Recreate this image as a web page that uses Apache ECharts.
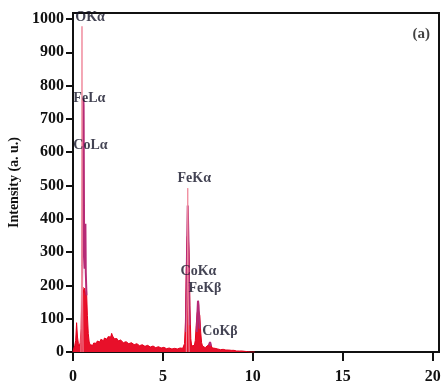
<!DOCTYPE html>
<html>
<head>
<meta charset="utf-8">
<script src="https://cdn.jsdelivr.net/npm/echarts@6/dist/echarts.min.js"></script>
<style>
  html, body { margin: 0; padding: 0; background: #fff; }
  #chart { width: 445px; height: 383px; }
</style>
</head>
<body>
<div id="chart"></div>
<script>
// EDS spectrum: energy (keV) vs. intensity (a. u.)

// Main spectrum (filled), sampled every 0.05 keV from 0 to 10.6 keV
const mainStart = 0;
const mainStep = 0.05;
const mainCounts = [
  0, 12, 20, 35, 88, 45, 25, 18, 28, 70,
  185, 195, 178, 192, 170, 188, 110, 55, 30, 22,
  18, 24, 20, 27, 22, 30, 26, 33, 28, 35,
  30, 38, 32, 40, 34, 42, 36, 44, 38, 46,
  40, 52, 45, 56, 48, 50, 40, 44, 36, 40,
  33, 38, 31, 36, 30, 34, 28, 33, 27, 31,
  26, 30, 25, 29, 24, 28, 23, 27, 22, 26,
  21, 25, 20, 24, 19, 23, 18, 22, 18, 21,
  17, 21, 16, 20, 16, 19, 15, 19, 15, 18,
  14, 17, 13, 16, 13, 16, 12, 15, 12, 14,
  11, 14, 11, 13, 10, 13, 10, 12, 10, 12,
  9, 12, 9, 11, 9, 11, 9, 11, 10, 12,
  10, 12, 11, 14, 25, 90, 250, 345, 360, 300,
  140, 40, 18, 14, 16, 20, 35, 80, 115, 130,
  128, 110, 60, 28, 18, 16, 14, 13, 15, 18,
  20, 24, 26, 22, 16, 12, 11, 10, 11, 9,
  10, 9, 8, 9, 7, 8, 7, 8, 6, 7,
  6, 7, 5, 6, 5, 6, 5, 5, 4, 5,
  4, 4, 3, 4, 3, 3, 3, 2, 3, 2,
  2, 2, 1, 1, 1, 1, 1, 0, 0, 0,
  0, 0, 0
];

// Narrow overlay lines (pink): O Kα and Fe Kα tops
const pinkEnergy = [0.44, 0.48, 0.50, 0.52, 0.56, null, 6.30, 6.36, 6.38, 6.40, 6.46];
const pinkCounts = [0, 260, 978, 240, 0, null, 0, 210, 492, 200, 0];

// Overlay lines (magenta): Fe Lα, Co Lα region, Fe Kα, Co Kα / Fe Kβ, Co Kβ
const magentaEnergy = [0.50, 0.54, 0.57, 0.59, 0.62, 0.65, 0.67, 0.69, 0.71, 0.75, null,
  6.28, 6.34, 6.38, 6.42, 6.48, null, 6.88, 6.92, 6.95, 6.98, 7.04, null,
  7.55, 7.62, 7.68];
const magentaCounts = [190, 420, 762, 740, 300, 250, 330, 385, 240, 170, null,
  60, 300, 440, 330, 80, null, 60, 120, 154, 140, 70, null,
  20, 30, 18];

// Peak annotations
const peakNames = ['OKα', 'FeLα', 'CoLα', 'FeKα', 'CoKα', 'FeKβ', 'CoKβ'];
const peakLabelX = [0.13, 0.02, 0.02, 5.81, 5.98, 6.42, 7.19];
const peakLabelY = [1004, 763, 619, 522, 243, 192, 61];

const panelTag = '(a)';
const panelTagPos = [19.85, 955];

// Axis ticks
const xTicks = [0, 5, 10, 15, 20];
const yTicks = [0, 100, 200, 300, 400, 500, 600, 700, 800, 900, 1000];

const mainData = mainCounts.map((c, i) => [+(mainStart + i * mainStep).toFixed(2), c]);
const pinkData = pinkEnergy.map((e, i) => e === null ? [null, null] : [e, pinkCounts[i]]);
const magentaData = magentaEnergy.map((e, i) => e === null ? [null, null] : [e, magentaCounts[i]]);
const labelData = peakNames.map((n, i) => ({ name: n, value: [peakLabelX[i], peakLabelY[i]] }));

const serif = '"Liberation Serif", "Times New Roman", serif';
const ink = '#111111';

const chart = echarts.init(document.getElementById('chart'), null, { renderer: 'canvas' });
chart.setOption({
  animation: false,
  backgroundColor: '#fff',
  grid: {
    left: 73, right: 6, top: 13, bottom: 31,
    containLabel: false, outerBoundsMode: 'none',
    show: true, borderColor: ink, borderWidth: 2, backgroundColor: 'transparent'
  },
  xAxis: {
    type: 'value', min: 0, max: 20.35,
    splitLine: { show: false },
    axisLine: { show: true, onZero: false, lineStyle: { color: ink, width: 2 } },
    axisTick: { show: true, inside: false, length: 9, customValues: xTicks, lineStyle: { color: ink, width: 2 } },
    axisLabel: {
      customValues: xTicks, margin: 17, color: ink, fontFamily: serif, fontWeight: 'bold', fontSize: 16,
      formatter: v => String(v)
    }
  },
  yAxis: {
    type: 'value', min: 0, max: 1018,
    name: 'Intensity (a. u.)', nameLocation: 'middle', nameGap: 38,
    nameTextStyle: { color: ink, fontFamily: serif, fontWeight: 'bold', fontSize: 14 },
    splitLine: { show: false },
    axisLine: { show: true, lineStyle: { color: ink, width: 2 } },
    axisTick: { show: true, inside: false, length: 7, customValues: yTicks, lineStyle: { color: ink, width: 2 } },
    axisLabel: {
      customValues: yTicks, margin: 9, color: ink, fontFamily: serif, fontWeight: 'bold', fontSize: 16,
      formatter: v => String(v)
    }
  },
  series: [
    {
      type: 'line', data: mainData, showSymbol: false, z: 2,
      lineStyle: { color: '#e4001c', width: 1 },
      areaStyle: { color: '#e8102a', opacity: 1 }
    },
    {
      type: 'line', data: magentaData, showSymbol: false, connectNulls: false, z: 3,
      lineStyle: { color: '#b62a76', width: 2 }
    },
    {
      type: 'line', data: pinkData, showSymbol: false, connectNulls: false, z: 4,
      lineStyle: { color: '#f08c9e', width: 1 }
    },
    {
      type: 'scatter', data: labelData, symbolSize: 0, z: 5, silent: true,
      label: {
        show: true, position: 'right', distance: 0, formatter: p => p.name,
        color: '#141428', fontFamily: serif, fontWeight: 'bold', fontSize: 14
      }
    },
    {
      type: 'scatter', data: [{ name: panelTag, value: panelTagPos }], symbolSize: 0, z: 5, silent: true,
      label: {
        show: true, position: 'left', distance: 0, formatter: p => p.name,
        color: ink, fontFamily: serif, fontWeight: 'bold', fontSize: 15
      }
    }
  ]
});
</script>
</body>
</html>
